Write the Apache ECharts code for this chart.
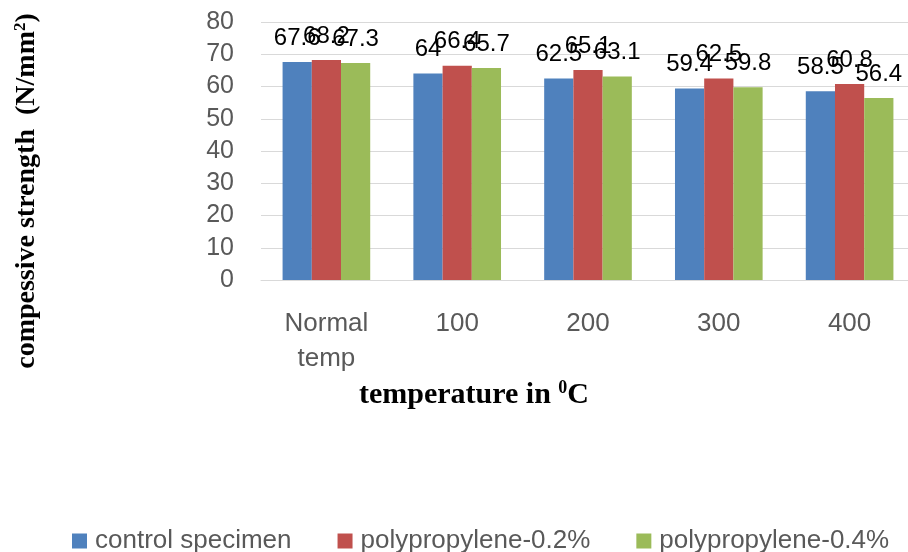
<!DOCTYPE html>
<html><head><meta charset="utf-8">
<script src="https://cdn.jsdelivr.net/npm/echarts@6/dist/echarts.min.js"></script>
<style>html,body{margin:0;padding:0;background:#fff;overflow:hidden}#c{width:915px;height:552px}</style>
</head><body><div id="c"></div>
<script>
const categories = ['Normal\ntemp', '100', '200', '300', '400'];
const seriesNames = ['control specimen', 'polypropylene-0.2%', 'polypropylene-0.4%'];
const controlSpecimen = [67.6, 64, 62.5, 59.4, 58.5];
const polypropylene02 = [68.2, 66.4, 65.1, 62.5, 60.8];
const polypropylene04 = [67.3, 65.7, 63.1, 59.8, 56.4];
const yMin = 0, yMax = 80, yInterval = 10;
const yTitle = 'compessive strength  (N/mm';
const xTitle = 'temperature in ';

const colors = ['#4F81BD', '#C0504D', '#9BBB59'];
const seriesData = [controlSpecimen, polypropylene02, polypropylene04];

const chart = echarts.init(document.getElementById('c'), null, {renderer: 'canvas'});
chart.setOption({
  animation: false,
  backgroundColor: '#ffffff',
  color: colors,
  grid: {left: 261, top: 22, right: 0, height: 258, containLabel: false},
  legend: {
    left: 67, top: 523, itemWidth: 15, itemHeight: 15, itemGap: 46, icon: 'rect',
    textStyle: {fontFamily: 'Liberation Sans', fontSize: 26, color: '#595959', padding: [0, 0, 0, 3]},
    data: seriesNames
  },
  xAxis: {
    type: 'category', data: categories,
    axisLine: {show: true, lineStyle: {color: '#D9D9D9', width: 1}},
    axisTick: {show: false},
    axisLabel: {fontFamily: 'Liberation Sans', fontSize: 26, color: '#595959', margin: 26, lineHeight: 35, interval: 0}
  },
  yAxis: {
    type: 'value', min: yMin, max: yMax, interval: yInterval,
    axisLine: {show: false}, axisTick: {show: false},
    splitLine: {lineStyle: {color: '#D9D9D9', width: 1}},
    axisLabel: {fontFamily: 'Liberation Sans', fontSize: 25, color: '#595959', margin: 27}
  },
  graphic: [
    {
      type: 'text', x: 27, y: 191, rotation: Math.PI / 2,
      style: {
        text: '{a|' + yTitle + '}{s|2}{a|)}',
        align: 'center', verticalAlign: 'middle',
        rich: {
          a: {fontFamily: 'Liberation Serif', fontWeight: 'bold', fontSize: 28, lineHeight: 30, fill: '#000'},
          s: {fontFamily: 'Liberation Serif', fontWeight: 'bold', fontSize: 17, lineHeight: 17, verticalAlign: 'top', fill: '#000'}
        }
      }
    },
    {
      type: 'text', x: 474, y: 395,
      style: {
        text: '{a|' + xTitle + '}{s|0}{a|C}',
        align: 'center', verticalAlign: 'middle',
        rich: {
          a: {fontFamily: 'Liberation Serif', fontWeight: 'bold', fontSize: 30, lineHeight: 32, fill: '#000'},
          s: {fontFamily: 'Liberation Serif', fontWeight: 'bold', fontSize: 18, lineHeight: 18, verticalAlign: 'top', fill: '#000'}
        }
      }
    }
  ],
  series: seriesNames.map((name, i) => ({
    name: name, type: 'bar', data: seriesData[i],
    barGap: '0%', barCategoryGap: '33%',
    itemStyle: {color: colors[i]},
    label: {show: true, position: 'top', distance: 12, color: '#000', fontFamily: 'Liberation Sans', fontSize: 24}
  }))
});
</script></body></html>
